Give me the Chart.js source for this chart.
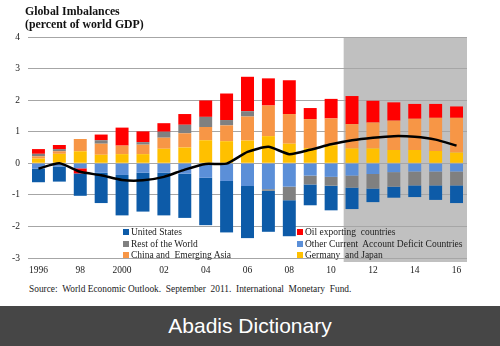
<!DOCTYPE html>
<html>
<head>
<meta charset="utf-8">
<script src="https://cdn.jsdelivr.net/npm/chart.js@4.4.0/dist/chart.umd.min.js"></script>
<style>
  body { margin: 0; background: #fff; }
  #wrap { position: relative; width: 500px; height: 346px; overflow: hidden; background: #fff; }
  #chart { position: absolute; left: 0; top: 0; }
  .title { position: absolute; left: 25px; top: 5px; font: bold 11.8px "Liberation Serif", serif; line-height: 13px; color: #111; }
  .legend { position: absolute; font: 9.5px "Liberation Serif", serif; color: #222; white-space: pre; }
  .legend div { position: absolute; white-space: pre; }
  .legend span { display: inline-block; width: 6px; height: 6px; margin-right: 2px; vertical-align: 0px; }
  .source { position: absolute; left: 29px; top: 284px; font: 9.4px "Liberation Serif", serif; color: #222; white-space: pre; }
  .banner { position: absolute; left: 0; top: 306px; width: 500px; height: 40px; background: #464646; color: #fff;
            font: 21px "Liberation Sans", Arial, sans-serif; line-height: 40px; text-align: center; }
</style>
</head>
<body>
<div id="wrap">
  <canvas id="chart" width="500" height="282"></canvas>
  <div class="title">Global Imbalances<br>(percent of world GDP)</div>
  <div class="legend" id="legend"></div>
  <div class="source">Source:  World Economic Outlook.  September  2011.  International  Monetary  Fund.</div>
  <div class="banner">Abadis Dictionary</div>
</div>
<script>
// years 1996 - 2016
const years = ['1996','1997','1998','1999','2000','2001','2002','2003','2004','2005','2006',
               '2007','2008','2009','2010','2011','2012','2013','2014','2015','2016'];
const tickLabels = ['1996','','98','','2000','','02','','04','','06','','08','','10','','12','','14','','16'];
const yTicks = [-3, -2, -1, 0, 1, 2, 3, 4];

const otherDeficit = [-0.17,-0.10,-0.16,-0.30,-0.37,-0.30,-0.30,-0.33,-0.46,-0.56,-0.72,-0.82,-0.74,-0.39,-0.43,-0.39,-0.34,-0.28,-0.26,-0.26,-0.26];
const germanyJapan = [0.15,0.30,0.38,0.27,0.29,0.29,0.46,0.50,0.73,0.70,0.72,0.86,0.62,0.48,0.57,0.47,0.47,0.42,0.42,0.39,0.34];
const chinaAsia    = [0.07,0.08,0.39,0.35,0.27,0.30,0.35,0.45,0.42,0.50,0.76,0.97,0.94,0.92,0.85,0.77,0.82,0.93,0.99,1.05,1.10];
const restOfWorld  = [0.08,0.07,0,0.11,0,0.08,0.19,0.27,0.32,0.17,0.17,-0.05,-0.43,-0.28,-0.28,-0.38,-0.46,-0.46,-0.44,-0.44,-0.44];
const oilExporters = [0.15,0.13,-0.16,0.18,0.57,0.34,0.27,0.34,0.52,0.84,1.09,0.86,1.07,0.35,0.62,0.89,0.69,0.58,0.47,0.44,0.36];
const unitedStates = [-0.43,-0.48,-0.71,-0.96,-1.28,-1.23,-1.35,-1.40,-1.50,-1.63,-1.65,-1.30,-1.14,-0.66,-0.78,-0.68,-0.43,-0.35,-0.37,-0.46,-0.56];
const netLine      = [-0.17,0.00,-0.27,-0.38,-0.53,-0.54,-0.43,-0.20,-0.02,-0.01,0.36,0.52,0.29,0.43,0.60,0.73,0.81,0.86,0.84,0.75,0.56];

const shadeStart = 14.6; // projections start part way after 2010

const colors = {
    us: '#0D5BA8', oil: '#FF0000', row: '#808080',
    other: '#5B8FD8', china: '#F79646', gj: '#FFC000'
};

// legend (2 columns, 3 rows)
const legendItems = [
    ['United States', colors.us, 123, 227],
    ['Oil exporting  countries', colors.oil, 297, 227],
    ['Rest of the World', colors.row, 123, 239],
    ['Other Current  Account Deficit Countries', colors.other, 297, 239],
    ['China and  Emerging Asia', colors.china, 123, 250],
    ['Germany  and Japan', colors.gj, 297, 250]
];
const legendEl = document.getElementById('legend');
legendItems.forEach(([txt, col, x, y]) => {
    const d = document.createElement('div');
    d.style.left = x + 'px';
    d.style.top = y + 'px';
    d.innerHTML = '<span style="background:' + col + '"></span>' + txt;
    legendEl.appendChild(d);
});

const shadePlugin = {
    id: 'shade',
    beforeDraw(chart) {
        const { ctx, chartArea, scales } = chart;
        const x = scales.x;
        const step = x.getPixelForValue(1) - x.getPixelForValue(0);
        const left = x.getPixelForValue(Math.floor(shadeStart)) + (shadeStart % 1) * step;
        ctx.save();
        ctx.fillStyle = '#C0C0C0';
        ctx.fillRect(left, chartArea.top, chartArea.right - left, chartArea.bottom - chartArea.top + 4);
        ctx.restore();
    }
};

const barDs = (label, data, color) => ({
    type: 'bar', label: label, data: data, backgroundColor: color,
    stack: 'bars', barPercentage: 0.62, categoryPercentage: 1.0
});

const ctx = document.getElementById('chart').getContext('2d');
new Chart(ctx, {
    data: {
        labels: years,
        datasets: [
            { type: 'line', label: 'Net', data: netLine, stack: 'line', borderColor: '#000',
              borderWidth: 2.5, pointRadius: 0, tension: 0.2, fill: false },
            barDs('Other Current Account Deficit Countries', otherDeficit, colors.other),
            barDs('Germany and Japan', germanyJapan, colors.gj),
            barDs('China and Emerging Asia', chinaAsia, colors.china),
            barDs('Rest of the World', restOfWorld, colors.row),
            barDs('Oil exporting countries', oilExporters, colors.oil),
            barDs('United States', unitedStates, colors.us)
        ]
    },
    options: {
        responsive: false,
        animation: false,
        layout: { padding: { top: 37, right: 33, left: 0, bottom: 0 } },
        plugins: { legend: { display: false }, tooltip: { enabled: false } },
        scales: {
            x: {
                stacked: true,
                grid: { display: false, drawTicks: false },
                border: { display: false },
                afterFit: s => { s.height = 24; },
                ticks: {
                    autoSkip: false, maxRotation: 0, padding: 7, color: '#222',
                    font: { family: 'Liberation Serif', size: 9.5 },
                    callback: (v, i) => tickLabels[i]
                }
            },
            y: {
                stacked: true,
                min: yTicks[0], max: yTicks[yTicks.length - 1],
                afterFit: s => { s.width = 28; },
                grid: { color: '#A6A6A6', lineWidth: 1, drawTicks: false },
                border: { display: false },
                ticks: {
                    stepSize: 1, padding: 8, color: '#222',
                    font: { family: 'Liberation Serif', size: 9.5 }
                }
            }
        }
    },
    plugins: [shadePlugin]
});
</script>
</body>
</html>
